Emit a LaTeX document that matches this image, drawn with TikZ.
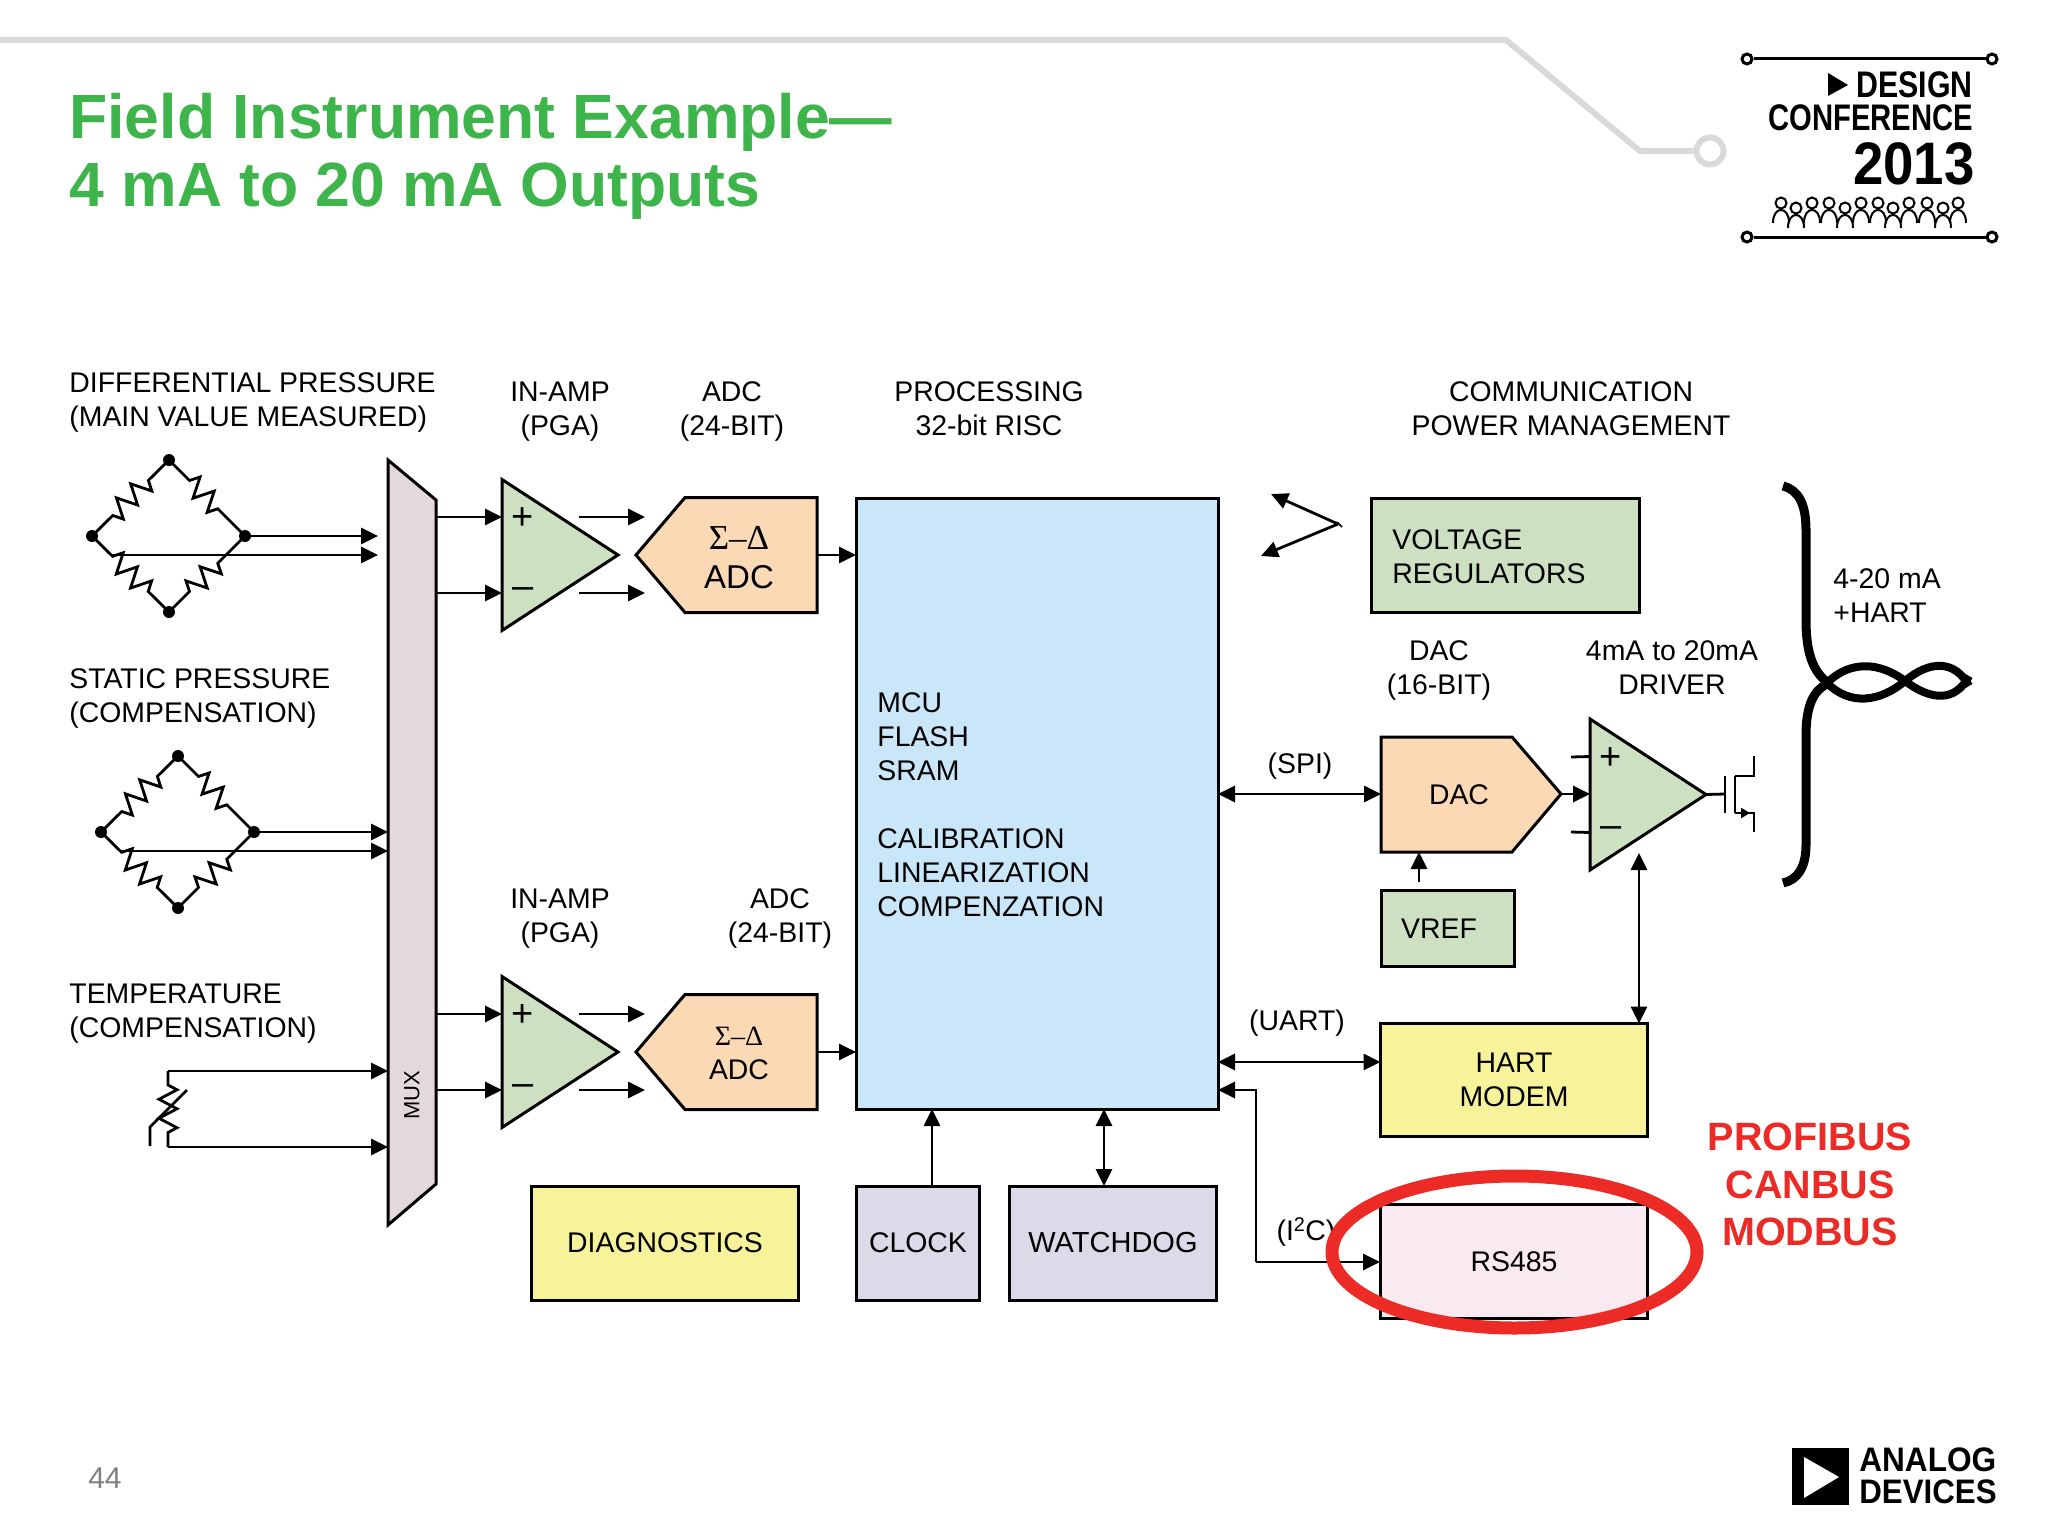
\documentclass[tikz,border=0pt]{standalone}
\usepackage{fontspec}
\setmainfont{Liberation Sans}
\newfontfamily\serifsym{Liberation Serif}
\usetikzlibrary{arrows.meta,decorations.pathmorphing,shapes.geometric}
\definecolor{titlegreen}{HTML}{3DB54A}
\definecolor{ampgreen}{HTML}{CDE1C2}
\definecolor{adcpeach}{HTML}{FBD9B5}
\definecolor{mcublue}{HTML}{CAE7F9}
\definecolor{muxmauve}{HTML}{E4D9DA}
\definecolor{boxyellow}{HTML}{F7F39B}
\definecolor{boxlav}{HTML}{DCD9E9}
\definecolor{boxpink}{HTML}{F9E9F0}
\definecolor{ringred}{HTML}{EC2B27}
\definecolor{railgrey}{HTML}{D9D9D9}
\tikzset{
    block/.style={
           rectangle,
           draw=black, line width=3pt,
           inner sep=0pt,
           outer sep=0pt,
           align=center,
           font=\fontsize{28.4}{34}\selectfont
           },
    lbl/.style={
           inner sep=0pt,
           align=center,
           font=\fontsize{28.4}{34}\selectfont
           },
    lblleft/.style={lbl, align=left, anchor=west},
    dot/.style={circle, fill=black, inner sep=0pt, minimum size=12pt},
    resistor/.style={
           decorate,
           decoration={zigzag, segment length=20pt, amplitude=10pt,
                       pre length=29pt, post length=29pt}
           },
    logotext/.style={inner sep=0pt, anchor=east, font=\fontsize{37}{37}\selectfont\bfseries},
    adtext/.style={inner sep=0pt, anchor=west, font=\fontsize{34}{34}\selectfont\bfseries},
    redlbl/.style={inner sep=0pt, text=ringred, font=\fontsize{39.5}{48}\selectfont\bfseries},
    bridge/.pic={
           \node[dot] (-top) at (0,-76) {};
           \node[dot] (-left) at (-77,0) {};
           \node[dot] (-right) at (76,0) {};
           \node[dot] (-bottom) at (0,76) {};
           \coordinate (-tap) at (-57,19);
           \draw[resistor] (-top.center) -- (-left.center);
           \draw[resistor] (-top.center) -- (-right.center);
           \draw[resistor] (-left.center) -- (-bottom.center);
           \draw[resistor] (-bottom.center) -- (-right.center);
           },
    amp/.pic={
           \draw[fill=ampgreen, line width=3pt] (0,-75.5) -- (116,0) -- (0,75.5) -- cycle;
           \coordinate (-p) at (0,-38);
           \coordinate (-m) at (0,38);
           \coordinate (-out) at (116,0);
           \node[inner sep=0pt, font=\fontsize{38}{38}\selectfont] (-plus) at (21,-36) {+};
           \node[inner sep=0pt, font=\fontsize{38}{38}\selectfont] (-minus) at (21,38) {--};
           },
    adc/.pic={
           \draw[fill=adcpeach, line width=3pt] (0,0) -- (49,-57.5) -- (181,-57.5) -- (181,57.5) -- (49,57.5) -- cycle;
           \coordinate (-out) at (181,0);
           },
}

\begin{document}
\begin{tikzpicture}[x=1pt,y=-1pt,>={Triangle[length=17pt,width=16pt]},line width=2.8pt]
    \useasboundingbox (0,0) rectangle (2048,1536);

    % header rail
    \node[circle, draw=railgrey, line width=6pt, minimum size=27pt, inner sep=0pt] (RAILEND) at (1710,151) {};
    \coordinate (RAILSTART) at (0,40);
    \draw[railgrey, line width=6pt] (RAILSTART) -- (1506,40) -- (1640,151) -- (RAILEND);

    \node[inner sep=0pt, anchor=west, align=left, text=titlegreen,
          font=\fontsize{62.5}{68}\selectfont\bfseries] (TITLE) at (68,156)
          {Field Instrument Example—\\4 mA to 20 mA Outputs};

    % conference logo
    \node[circle, draw, line width=3pt, minimum size=10pt, inner sep=0pt] (LOGOA) at (1747,59) {};
    \node[circle, draw, line width=3pt, minimum size=10pt, inner sep=0pt] (LOGOB) at (1992,59) {};
    \node[circle, draw, line width=3pt, minimum size=10pt, inner sep=0pt] (LOGOC) at (1747,237) {};
    \node[circle, draw, line width=3pt, minimum size=10pt, inner sep=0pt] (LOGOD) at (1992,237) {};
    \draw[line width=3pt] (LOGOA) -- (LOGOB);
    \draw[line width=3pt] (LOGOC) -- (LOGOD);
    \fill (1828,73) -- (1848,85) -- (1828,96) -- cycle;
    \node[logotext, xscale=.82] (DESIGN) at (1974,85) {DESIGN};
    \node[logotext, xscale=.79] (CONF) at (1974,118) {CONFERENCE};
    \node[logotext, xscale=.91, font=\fontsize{60}{60}\selectfont\bfseries] (YEAR) at (1976,164) {2013};
    \foreach \hx/\hy in {1781/203,1796/208,1812/203,1829/203,1845/208,1861/203,
                         1878/203,1893/208,1909/203,1927/203,1943/208,1958/203}
        \draw[line width=2pt] (\hx,\hy) circle (5.5)
            (\hx-8,\hy+20) .. controls (\hx-8,\hy+11) and (\hx-4,\hy+7) .. (\hx,\hy+7)
            .. controls (\hx+4,\hy+7) and (\hx+8,\hy+11) .. (\hx+8,\hy+20);

    % section headings
    \node[lblleft] (DPLBL) at (68,403) {DIFFERENTIAL PRESSURE\\(MAIN VALUE MEASURED)};
    \node[lbl] (IALBL) at (560,412) {IN-AMP\\(PGA)};
    \node[lbl] (ADLBL) at (732,412) {ADC\\(24-BIT)};
    \node[lbl] (PRLBL) at (989,409) {PROCESSING\\32-bit RISC};
    \node[lbl] (COLBL) at (1571,409) {COMMUNICATION\\POWER MANAGEMENT};
    \node[lblleft] (SPLBL) at (68,699) {STATIC PRESSURE\\(COMPENSATION)};
    \node[lblleft] (TPLBL) at (68,1014) {TEMPERATURE\\(COMPENSATION)};
    \node[lbl] (IBLBL) at (560,919) {IN-AMP\\(PGA)};
    \node[lbl] (ABLBL) at (780,919) {ADC\\(24-BIT)};

    % sensors
    \pic (BA) at (169,536) {bridge};
    \pic (BB) at (178,832) {bridge};

    % mux
    \draw[fill=muxmauve, line width=3pt] (388,460) -- (436,500) -- (436,1184) -- (388,1225) -- cycle;
    \node[lbl, rotate=90, font=\fontsize{22}{22}\selectfont] (MUXLBL) at (412,1095) {MUX};
    \coordinate (MUXA) at (436,517);
    \coordinate (MUXB) at (436,593);
    \coordinate (MUXC) at (436,1014);
    \coordinate (MUXD) at (436,1090);

    \coordinate (BAA) at (378,536);
    \coordinate (BAB) at (378,555);
    \coordinate (BBA) at (388,832);
    \coordinate (BBB) at (388,851);
    \draw[->] (BA-right.center) -- (BAA);
    \draw[->] (BA-tap) -- (BAB);
    \draw[->] (BB-right.center) -- (BBA);
    \draw[->] (BB-tap) -- (BBB);

    % thermistor
    \coordinate (RTA) at (168,1071);
    \coordinate (RTB) at (168,1147);
    \coordinate (RTC) at (388,1071);
    \coordinate (RTD) at (388,1147);
    \draw[decorate, decoration={zigzag, segment length=19pt, amplitude=9pt, pre length=14pt, post length=14pt}] (RTA) -- (RTB);
    \draw[->] (RTA) -- (RTC);
    \draw[->] (RTB) -- (RTD);
    \draw (187,1090) -- (150,1127) -- (150,1146);

    % upper channel
    \pic (AMPA) at (502,555) {amp};
    \pic (ADCA) at (636,555) {adc};
    \node[lbl, font=\fontsize{35}{35}\selectfont\serifsym] (SDA) at (739,538) {Σ–Δ};
    \node[lbl, font=\fontsize{33}{33}\selectfont] (ADCATXT) at (739,577) {ADC};

    % lower channel
    \pic (AMPB) at (502,1052) {amp};
    \pic (ADCB) at (636,1052) {adc};
    \node[lbl, font=\fontsize{28}{28}\selectfont\serifsym] (SDB) at (739,1036) {Σ–Δ};
    \node[lbl] (ADCBTXT) at (739,1070) {ADC};

    \node[block, fill=mcublue, minimum width=362pt, minimum height=611pt] (MCU) at (1037,803.5) {};
    \node[lblleft] (MCUTXT) at (876,805)
         {MCU\\FLASH\\SRAM\\[34pt]CALIBRATION\\LINEARIZATION\\COMPENZATION};

    \draw[->] (MUXA) -- (AMPA-p);
    \draw[->] (MUXB) -- (AMPA-m);
    \draw[->] (MUXC) -- (AMPB-p);
    \draw[->] (MUXD) -- (AMPB-m);
    \foreach \ch in {A,B} {
        \draw[->] (ADC\ch-out) -- (ADC\ch-out -| MCU.west);
        \draw[->] ([xshift=77pt]AMP\ch-p) -- ([xshift=143pt]AMP\ch-p);
        \draw[->] ([xshift=77pt]AMP\ch-m) -- ([xshift=143pt]AMP\ch-m);
    }

    % bottom row
    \node[block, fill=boxyellow, minimum width=267pt, minimum height=114pt] (DIAG) at (665,1243) {DIAGNOSTICS};
    \node[block, fill=boxlav, minimum width=123pt, minimum height=114pt] (CLOCK) at (918,1243) {CLOCK};
    \node[block, fill=boxlav, minimum width=207pt, minimum height=114pt, font=\fontsize{29}{34}\selectfont] (WDOG) at (1113,1243) {WATCHDOG};
    \draw[->] (CLOCK.north -| 932,0) -- (MCU.south -| 932,0);
    \draw[<->] (WDOG.north -| 1104,0) -- (MCU.south -| 1104,0);

    % right column
    \coordinate (ANTV) at (1338,524);
    \draw[->] (ANTV) -- (1271,494);
    \draw[->] (ANTV) -- (1261,556);
    \draw[line width=1.5pt] (1337,522) -- (1342,527);

    \node[block, fill=ampgreen, minimum width=268pt, minimum height=114pt] (VREG) at (1505,555.5) {};
    \node[lblleft] (VREGTXT) at (1391,557) {VOLTAGE\\REGULATORS};

    \node[lbl] (DACLBL) at (1439,671) {DAC\\(16-BIT)};
    \node[lbl] (DRVLBL) at (1672,668) {4mA to 20mA\\DRIVER};

    \draw[fill=adcpeach, line width=3pt] (1381,737) -- (1512,737) -- (1561,794) -- (1512,852) -- (1381,852) -- cycle;
    \coordinate (DACIN) at (1381,794);
    \coordinate (DACOUT) at (1561,794);
    \coordinate (DACREF) at (1419,852);
    \node[lbl] (DACTXT) at (1459,795) {DAC};

    \pic (DRV) at (1590,794.5) {amp};
    \coordinate (DRVP) at (1571,757);
    \coordinate (DRVM) at (1571,832);
    \draw (DRVP) -- (DRV-p);
    \draw (DRVM) -- (DRV-m);
    \draw[->] (DACOUT) -- (1590,794);
    \coordinate (DRVBOT) at (1639,853);

    \coordinate (GATE) at (1725,794);
    \draw (DRV-out) -- (GATE);
    \draw (1725,776) -- (1725,813);
    \draw (1735,776) -- (1735,813);
    \draw (1735,776) -- (1754,776) -- (1754,756);
    \draw (1735,813) -- (1754,813) -- (1754,832);
    \draw[-{Triangle[length=9pt,width=10pt]}] (1735,813) -- (1750,813);

    \node[lbl] (SPILBL) at (1300,766) {(SPI)};
    \draw[<->] (MCU.east |- DACIN) -- (DACIN);

    \node[block, fill=ampgreen, minimum width=133pt, minimum height=76pt] (VREF) at (1447.5,928.5) {};
    \node[lbl] (VREFTXT) at (1439,929) {VREF};
    \draw[->] ([yshift=9pt]VREF.north -| DACREF) -- (DACREF);

    \node[block, fill=boxyellow, minimum width=267pt, minimum height=113pt] (HART) at (1514,1080) {HART\\MODEM};
    \node[block, fill=boxpink, minimum width=267pt, minimum height=114pt, line width=3pt] (RS) at (1514,1261.5) {RS485};
    \node[lbl] (UARTLBL) at (1297,1023) {(UART)};
    \draw[<->] (MCU.east |- 0,1062) -- (HART.west |- 0,1062);
    \draw[<->] (DRVBOT) -- (HART.north -| DRVBOT);
    \node[lbl] (ICLBL) at (1306,1232) {(I\textsuperscript{2}C)};
    \coordinate (ICIN) at (1380,1262);
    \draw[->] (ICIN -| 1256,0) -- (ICIN);
    \draw[->] (1256,1262) -- (1256,1090) -- (MCU.east |- 0,1090);

    % red mark
    \node[ellipse, draw=ringred, line width=13pt, minimum width=365pt, minimum height=152pt, inner sep=0pt] (RING) at (1514.5,1252) {};
    \node[redlbl] (PBTXT) at (1810,1137) {PROFIBUS};
    \node[redlbl] (CBTXT) at (1810,1185) {CANBUS};
    \node[redlbl] (MBTXT) at (1810,1232) {MODBUS};

    % loop pair
    \draw[line width=9pt] (1783,486) .. controls (1799,490) and (1806,505) .. (1806,530) -- (1806,620)
        .. controls (1806,655) and (1814,672) .. (1827,682);
    \draw[line width=9pt] (1827,684) .. controls (1814,690) and (1806,705) .. (1806,735) -- (1806,845)
        .. controls (1806,868) and (1797,880) .. (1783,883);
    \draw[line width=8pt] (1827,683) .. controls (1850,660) and (1880,662) .. (1905,681)
        .. controls (1930,700) and (1955,703) .. (1969,676);
    \draw[line width=8pt] (1827,683) .. controls (1850,706) and (1880,702) .. (1905,681)
        .. controls (1930,660) and (1955,660) .. (1969,686);
    \node[lblleft] (HARTLBL) at (1832,596) {4-20 mA\\+HART};

    % footer
    \node[lbl, text=black!50, font=\fontsize{30}{30}\selectfont] (PAGENO) at (105,1478) {44};
    \fill (1792,1448) rectangle (1849,1505);
    \fill[white] (1804,1457) -- (1839,1477) -- (1804,1498) -- cycle;
    \node[adtext, xscale=.93] (ANALOG) at (1858,1460) {ANALOG};
    \node[adtext, xscale=.92] (DEVICES) at (1858,1492) {DEVICES};
\end{tikzpicture}
\end{document}
